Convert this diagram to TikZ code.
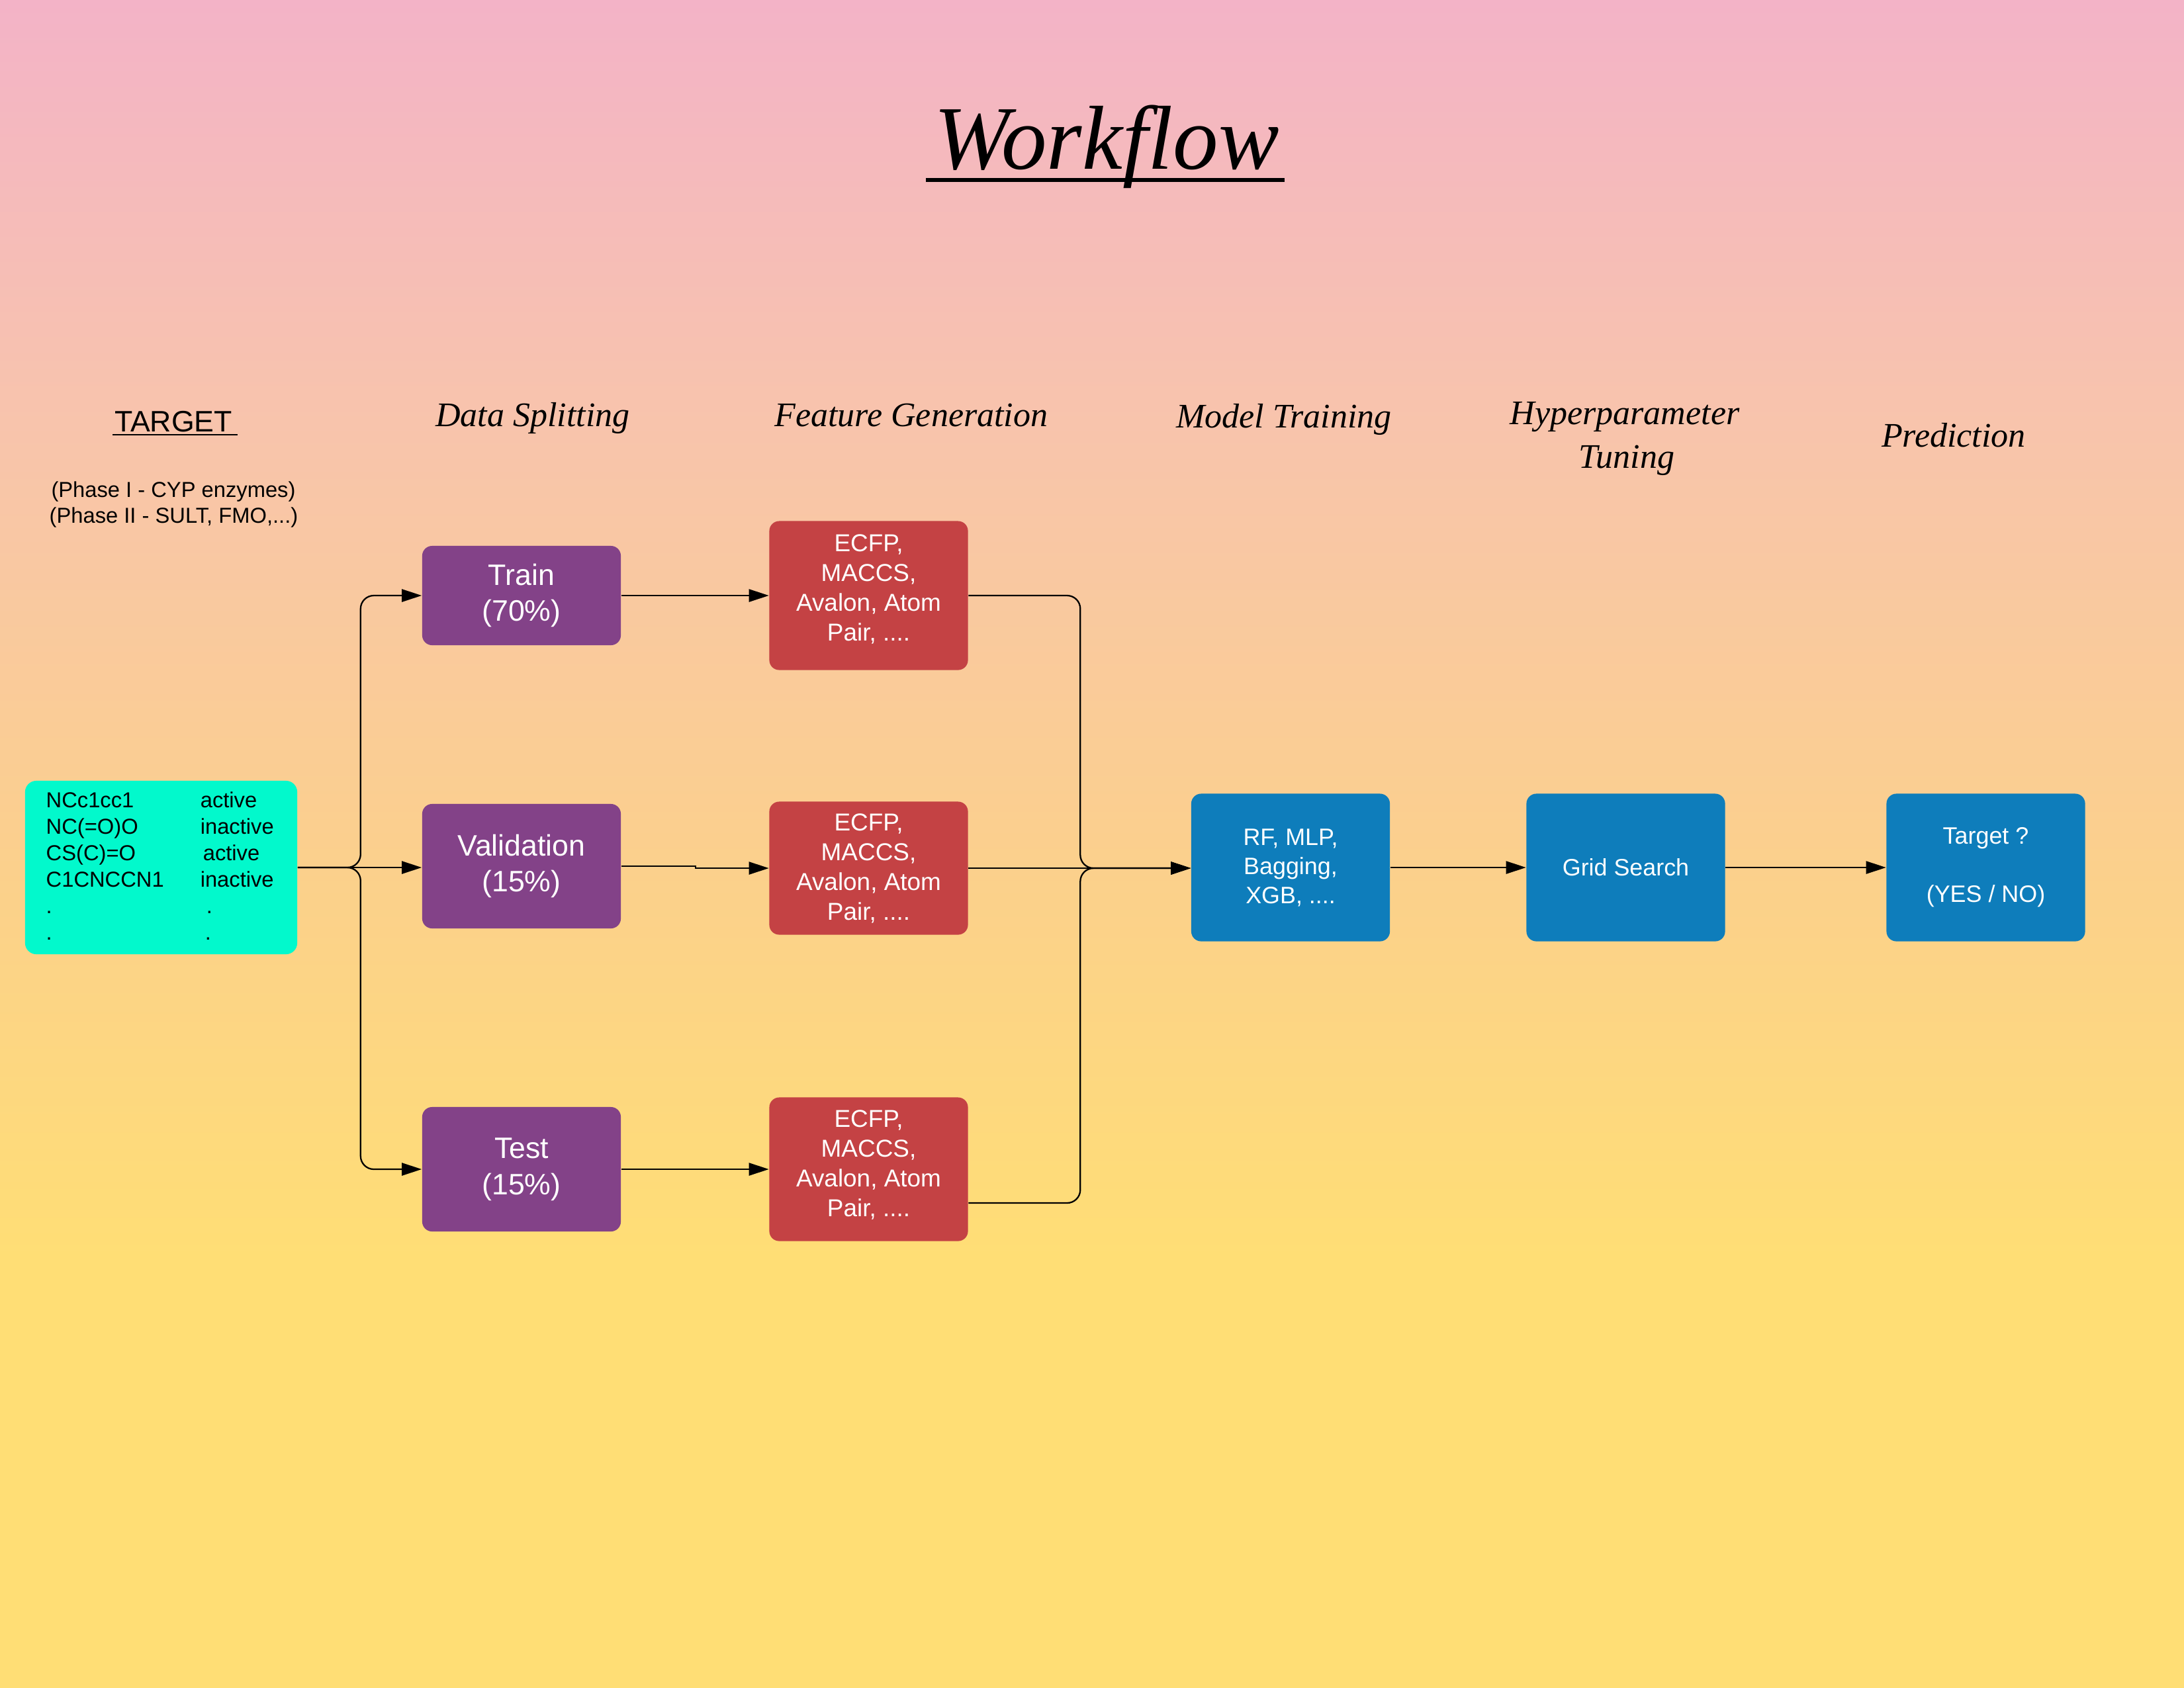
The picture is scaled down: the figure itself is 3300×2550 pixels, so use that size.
\documentclass[tikz,border=0pt]{standalone}
\usepackage{fontspec}
\setmainfont{Liberation Sans}
\newfontfamily\headfont{Liberation Serif}
\usetikzlibrary{arrows.meta,calc}

\definecolor{bgpink}{RGB}{243,179,199}
\definecolor{bgpeach}{RGB}{248,196,172}
\definecolor{bgorange}{RGB}{251,208,140}
\definecolor{bgyellow}{RGB}{255,222,117}
\definecolor{datacyan}{RGB}{2,249,204}
\definecolor{splitpurple}{RGB}{131,66,136}
\definecolor{featred}{RGB}{196,66,68}
\definecolor{modelblue}{RGB}{14,125,187}

% page background: pink at the top fading into yellow
\pgfdeclareverticalshading{workflowbg}{100bp}{%
  color(0bp)=(bgyellow); color(37.7bp)=(bgyellow); color(49.3bp)=(bgorange);
  color(62.45bp)=(bgpeach); color(75bp)=(bgpink); color(100bp)=(bgpink)}

\tikzset{
  txt/.style={inner sep=0pt},
  head/.style={txt, font=\headfont\itshape\fontsize{14.8}{17}\selectfont},
  small/.style={txt, font=\fontsize{9.3}{11.4}\selectfont},
  box/.style={rectangle, rounded corners=0.15cm, inner sep=0pt, align=center,
    text=white, minimum width=3cm},
  splitbox/.style={box, fill=splitpurple, font=\fontsize{12.7}{15.5}\selectfont},
  featbox/.style={box, fill=featred, font=\fontsize{10.5}{12.8}\selectfont},
  feattext/.style={txt, align=center, text=white, font=\fontsize{10.5}{12.8}\selectfont},
  modelbox/.style={box, fill=modelblue, minimum height=2.23cm,
    font=\fontsize{10.2}{12.5}\selectfont},
  conn/.style={line width=0.65pt, draw=black},
  arr/.style={conn, -{Triangle[length=0.3cm,width=0.19cm]}},
  roundjoin/.style={rounded corners=0.2cm},
}

\begin{document}
\begin{tikzpicture}[x=0.01cm,y=-0.01cm]
\shade[shading=workflowbg] (0,0) rectangle (3300,2550);
\useasboundingbox (0,0) rectangle (3300,2550);

% title
\node[txt, anchor=base, font=\headfont\itshape\fontsize{39}{44}\selectfont] (title) at (1672,255) {Workflow};
\draw[line width=1.9pt] ($(title.base west)+(-12,17)$) -- ($(title.base east)+(8,17)$);

% column headings
\node[txt, anchor=base, font=\fontsize{12.7}{15}\selectfont] (thead) at (262,652) {TARGET};
\draw[line width=0.75pt] ($(thead.base west)+(-2,5)$) -- ($(thead.base east)+(7,5)$);
\node[small, anchor=base] (phase1) at (262,751) {(Phase I - CYP enzymes)};
\node[small, anchor=base] (phase2) at (262.5,790) {(Phase II - SULT, FMO,...)};

\node[head, anchor=base] (hsplit) at (805,644) {Data Splitting};
\node[head, anchor=base] (hfeat) at (1377,644) {Feature Generation};
\node[head, anchor=base] (hmodel) at (1940,646) {Model Training};
\node[head, anchor=base] (hhyp) at (2455,641) {Hyperparameter};
\node[head, anchor=base] (htun) at (2458,707) {Tuning};
\node[head, anchor=base] (hpred) at (2952,675) {Prediction};

% input data
\node[rectangle, rounded corners=0.17cm, fill=datacyan, minimum width=4.11cm,
      minimum height=2.62cm, inner sep=0pt] (data) at (243.5,1311) {};
\node[small, anchor=base west] (rows) at (69,1220) {%
  \begin{tabular}[t]{@{}p{2.33cm}@{}l@{}}
  NCc1cc1 & active\\
  NC(=O)O & inactive\\
  CS(C)=O & \hspace{0.04cm}active\\
  C1CNCCN1 & inactive\\
  . & \hspace{0.09cm}.\\
  . & \hspace{0.07cm}.
  \end{tabular}};

% data splitting
\node[splitbox, minimum height=1.5cm] (train) at (788,900) {Train\\(70\%)};
\node[splitbox, minimum height=1.88cm] (val) at (788,1309) {Validation\\(15\%)};
\node[splitbox, minimum height=1.88cm] (test) at (788,1767) {Test\\(15\%)};

% feature generation
\node[featbox, minimum height=2.25cm] (f1) at (1312.5,900) {};
\node[feattext] (f1text) at (1312.5,890) {ECFP,\\MACCS,\\Avalon, Atom\\Pair, ....};
\node[featbox, minimum height=2.01cm] (f2) at (1312.5,1312) {ECFP,\\MACCS,\\Avalon, Atom\\Pair, ....};
\node[featbox, minimum height=2.17cm] (f3) at (1312.5,1767) {};
\node[feattext] (f3text) at (1312.5,1760) {ECFP,\\MACCS,\\Avalon, Atom\\Pair, ....};

% model, tuning, prediction
\node[modelbox] (model) at (1950,1311) {RF, MLP,\\Bagging,\\XGB, ....};
\node[modelbox] (grid) at (2456.5,1311) {Grid Search};
\node[modelbox] (pred) at (3000.5,1311) {Target ?\\[\baselineskip](YES / NO)};

% connectors
\draw[arr, roundjoin] (data.east) -- ++(95,0) |- (train.west);
\draw[arr, roundjoin] (data.east) -- ++(95,0) |- (test.west);
\draw[arr] (data.east) -- (data.east -| val.west);

\draw[arr] (train.east) -- (f1.west);
\draw[arr] (val.east) -- ++(112,0) |- (f2.west);
\draw[arr] (test.east) -- (f3.west);

\draw[arr, roundjoin] (f1.east) -- ++(169,0) |- (f2.east -| model.west);
\draw[arr, roundjoin] ($(f3.east)+(0,51)$) -- ++(169,0) |- (f2.east -| model.west);
\draw[arr] (f2.east) -- (f2.east -| model.west);

\draw[arr] (model.east) -- (grid.west);
\draw[arr] (grid.east) -- (pred.west);
\end{tikzpicture}
\end{document}
